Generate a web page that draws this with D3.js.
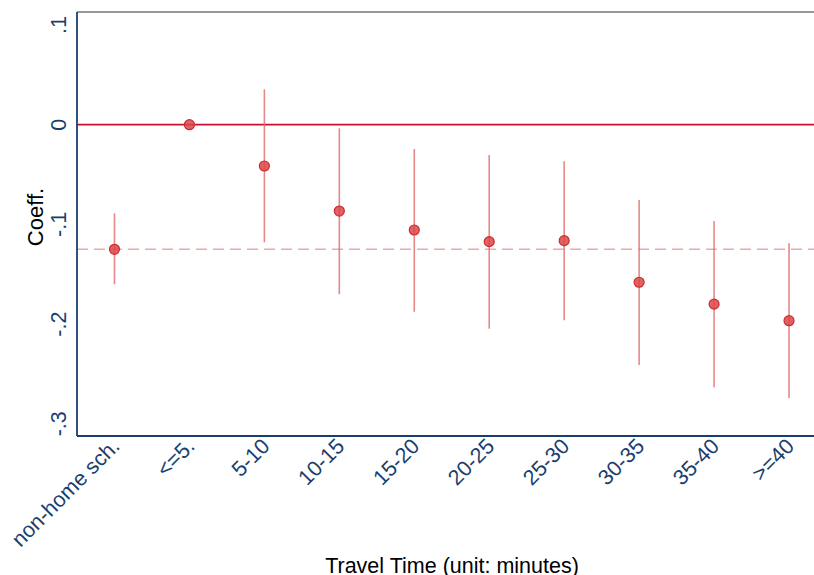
<!DOCTYPE html>
<html><head><meta charset="utf-8">
<script src="https://cdn.jsdelivr.net/npm/d3@7"></script>
<style>body{margin:0;background:#fff}svg{display:block;font-family:"Liberation Sans",Arial,sans-serif}</style>
</head><body><svg id="c" width="814" height="575"></svg>
<script>
const categories = ["non-home sch.","<=5.","5-10","10-15","15-20","20-25","25-30","30-35","35-40",">=40"];
const coef  = [-0.125, 0, -0.0414, -0.0866, -0.1056, -0.1173, -0.1163, -0.158, -0.180, -0.1966];
const lower = [-0.160, null, -0.118, -0.170, -0.1876, -0.2046, -0.1962, -0.241, -0.2634, -0.274];
const upper = [-0.0889, null, 0.0355, -0.0036, -0.0244, -0.0304, -0.0367, -0.0755, -0.0966, -0.119];
const yTicks = [0.1, 0, -0.1, -0.2, -0.3];
const yTickLabels = [".1","0","-.1","-.2","-.3"];
const refLine = -0.125;

const svg = d3.select("#c");
const pL = 77, pR = 826.5, pT = 12, pB = 436;
const x = d3.scaleLinear().domain([-0.5, categories.length - 0.5]).range([pL, pR]);
const y = d3.scaleLinear().domain([0.1, -0.3]).range([25, 423.8]);
const navy = "#1a3f6f";
const fs = 21.5;

// frame top
svg.append("line").attr("x1", pL).attr("x2", 814).attr("y1", pT).attr("y2", pT)
  .attr("stroke", "#333").attr("stroke-width", 1.2);

// reference dashed line
svg.append("line").attr("x1", pL).attr("x2", 814).attr("y1", y(refLine)).attr("y2", y(refLine))
  .attr("stroke", "#f0a8a8").attr("stroke-width", 1.5).attr("stroke-dasharray", "11,6");

// zero line
svg.append("line").attr("x1", pL).attr("x2", 814).attr("y1", y(0)).attr("y2", y(0))
  .attr("stroke", "#c8102e").attr("stroke-width", 1.8);

// CI lines
const idx = d3.range(categories.length);
svg.append("g").selectAll("line").data(idx.filter(i => lower[i] !== null)).join("line")
  .attr("x1", i => x(i)).attr("x2", i => x(i))
  .attr("y1", i => y(upper[i])).attr("y2", i => y(lower[i]))
  .attr("stroke", "#e06a6a").attr("stroke-opacity", 0.8).attr("stroke-width", 1.6);

// points
svg.append("g").selectAll("circle").data(idx).join("circle")
  .attr("cx", i => x(i)).attr("cy", i => y(coef[i])).attr("r", 5)
  .attr("fill", "#d9474a").attr("fill-opacity", 0.85)
  .attr("stroke", "#cf2a2e").attr("stroke-width", 1.2);

// y axis
const yAxis = d3.axisLeft(y).tickValues(yTicks).tickSize(0).tickPadding(0)
  .tickFormat((d, i) => yTickLabels[i]);
const gy = svg.append("g").attr("transform", `translate(${pL},0)`).call(yAxis);
gy.select(".domain").attr("stroke", navy).attr("stroke-width", 1.8).attr("d", `M0,${pT}V${pB}`);
gy.selectAll(".tick").attr("transform", null);
gy.selectAll("text").attr("fill", navy).attr("font-size", fs)
  .attr("text-anchor", "middle").attr("dy", null).attr("x", 0).attr("y", 0)
  .attr("transform", d => `translate(-11,${y(d)}) rotate(-90)`);

// x axis
const xAxis = d3.axisBottom(x).tickValues(idx).tickSize(0).tickPadding(0)
  .tickFormat(i => categories[i]);
const gx = svg.append("g").attr("transform", `translate(0,${pB})`).call(xAxis);
gx.select(".domain").attr("stroke", navy).attr("stroke-width", 1.8).attr("d", `M${pL},0H814`);
gx.selectAll("text").attr("fill", navy).attr("font-size", fs)
  .attr("text-anchor", "end").attr("dy", null).attr("y", 0).attr("x", 0)
  .attr("transform", "translate(6,11.5) rotate(-45)");

// axis titles
svg.append("text").attr("transform", `translate(43,217) rotate(-90)`)
  .attr("text-anchor", "middle").attr("font-size", 22).attr("fill", "#000").text("Coeff.");
svg.append("text").attr("x", 452).attr("y", 573)
  .attr("text-anchor", "middle").attr("font-size", fs).attr("fill", "#000").text("Travel Time (unit: minutes)");
</script></body></html>
